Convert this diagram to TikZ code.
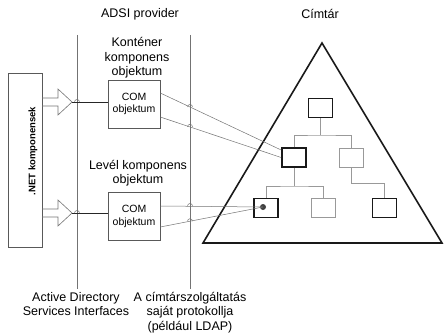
\documentclass[tikz,border=0pt]{standalone}
\usepackage{fontspec}
\setmainfont{Liberation Sans}
\usetikzlibrary{positioning}
\begin{document}
\begin{tikzpicture}[x=1pt, y=-1pt,
    labeltxt/.style={font=\fontsize{12.5}{14.5}\selectfont, align=center, inner sep=0pt},
    combox/.style={draw=black!65, line width=.6pt, minimum width=52pt, minimum height=48pt,
      font=\fontsize{10.5}{12.5}\selectfont, align=center, inner sep=0pt},
    dirbox/.style={draw=black!90, line width=1.7pt, minimum width=24pt, minimum height=19pt, inner sep=0pt},
    dirghost/.style={draw=black!40, line width=.8pt, minimum width=24pt, minimum height=19pt, inner sep=0pt},
    thinline/.style={draw=black!55, line width=.5pt},
    treeline/.style={draw=black!40, line width=.8pt}]
  \useasboundingbox (0,0) rectangle (446,334);
  % headers
  \node[labeltxt] (adsi) at (140,14) {ADSI provider};
  \node[labeltxt] (cimtar) at (320,14) {Címtár};
  % interface lines
  \coordinate (adsitop) at (77,35);
  \coordinate (adsibot) at (77,289);
  \coordinate (prottop) at (190,35);
  \coordinate (protbot) at (190,289);
  \draw[thinline] (adsitop) -- (adsibot);
  \draw[thinline] (prottop) -- (protbot);
  \node[labeltxt, anchor=north] (adsilabel) at (76,292) {Active Directory\\Services Interfaces};
  \node[labeltxt, anchor=north] (protlabel) at (190,292) {A címtárszolgáltatás\\saját protokollja\\(például LDAP)};
  % .NET side
  \node[draw=black!65, line width=.6pt, minimum width=34pt, minimum height=174pt, inner sep=0pt] (dotnet) at (25,160) {};
  \node[rotate=90, font=\bfseries\fontsize{9.5}{11}\selectfont] (dotnettxt) at (33,151) {.NET komponensek};
  % COM objects
  \node[labeltxt] (kontlabel) at (137,58) {Konténer\\komponens\\objektum};
  \node[combox] (comkont) at (134,104) {COM\\objektum};
  \node[labeltxt] (levlabel) at (138,173) {Levél komponens\\objektum};
  \node[combox] (comlev) at (134,216.5) {COM\\objektum};
  % hollow arrows into the interface
  \foreach \ay/\nm in {102/tipkont, 213/tiplev} {
    \draw[black!55, line width=.6pt, line join=miter]
      (42,\ay-4) -- (58,\ay-4) -- (58,\ay-13) -- (72,\ay) -- (58,\ay+13) -- (58,\ay+4) -- (42,\ay+4);
    \coordinate (\nm) at (72,\ay);
  }
  \draw[black!85, line width=.7pt] (tipkont) -- (tipkont -| comkont.west);
  \draw[black!85, line width=.7pt] (tiplev) -- (tiplev -| comlev.west);
  % directory
  \draw[line width=1.6pt, black!90, line join=miter] (322,43) -- (442,243) -- (203,243) -- cycle;
  \node[dirbox] (d1) at (320.5,108) {};
  \node[dirbox] (d21) at (294,157.5) {};
  \node[dirghost] (d22) at (351,157.5) {};
  \node[dirbox] (d31) at (266,208) {};
  \node[dirghost] (d32) at (323.5,208) {};
  \node[dirbox] (d33) at (384.5,208) {};
  \coordinate (j1) at (320.5,135);
  \coordinate (j2) at (294,186);
  \coordinate (j3) at (351,183);
  \draw[treeline] (d1.south) -- (j1);
  \draw[treeline] (d21.north) |- (j1) -| (d22.north);
  \draw[treeline] (d21.south) -- (j2);
  \draw[treeline] (d31.north) |- (j2) -| (d32.north);
  \draw[treeline] (d22.south) -- (j3) -| (d33.north);
  \node[circle, fill=black!75, inner sep=0pt, minimum size=6pt] (leafdot) at ([xshift=-3pt, yshift=1pt]d31.center) {};
  % protocol links
  \draw[thinline] ([yshift=11pt]comkont.east) -- ([yshift=7.5pt]d21.west);
  \draw[thinline] ([yshift=-13pt]comkont.east) -- (d21.west);
  \draw[thinline] ([yshift=10.5pt]comlev.east) -- (leafdot.center);
  \draw[thinline] ([yshift=-10.5pt]comlev.east) -- (leafdot.center);
  % hops
  \foreach \hx/\hy in {77/102, 77/213, 190/107, 190/126.8, 190/206, 190/221.2}
    \draw[thinline] (\hx-2.5,\hy) arc (180:360:2.5);
\end{tikzpicture}
\end{document}
